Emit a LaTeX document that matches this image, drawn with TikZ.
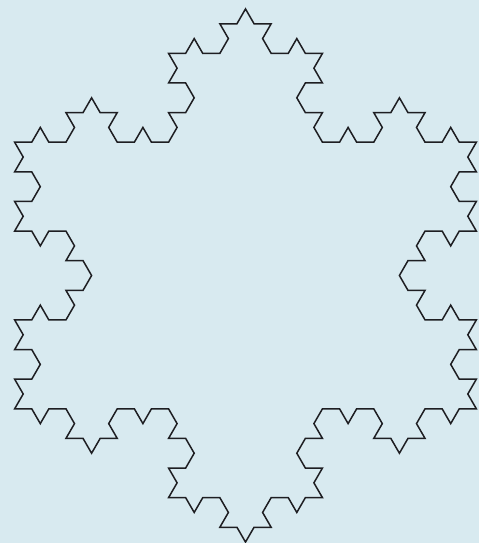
\documentclass[tikz,border=0pt]{standalone}
\usetikzlibrary{lindenmayersystems}
\definecolor{paper}{RGB}{216,234,240}
\definecolor{ink}{RGB}{30,30,34}
\pgfdeclarelindenmayersystem{Koch curve}{\rule{F -> F-F++F-F}}
\tikzset{flake/.style={draw=ink, line width=1.5pt, line join=miter}}
\begin{document}
\begin{tikzpicture}[x=1pt,y=1pt]
\fill[paper] (0,0) rectangle (479,543);
\useasboundingbox (0,0) rectangle (479,543);
\begin{scope}[shift={(14.65,134.2)}]
\draw[flake, lindenmayer system={Koch curve, step=17.1pt, angle=60, axiom=F++F++F, order=3}]
  lindenmayer system -- cycle;
\end{scope}
\end{tikzpicture}
\end{document}
